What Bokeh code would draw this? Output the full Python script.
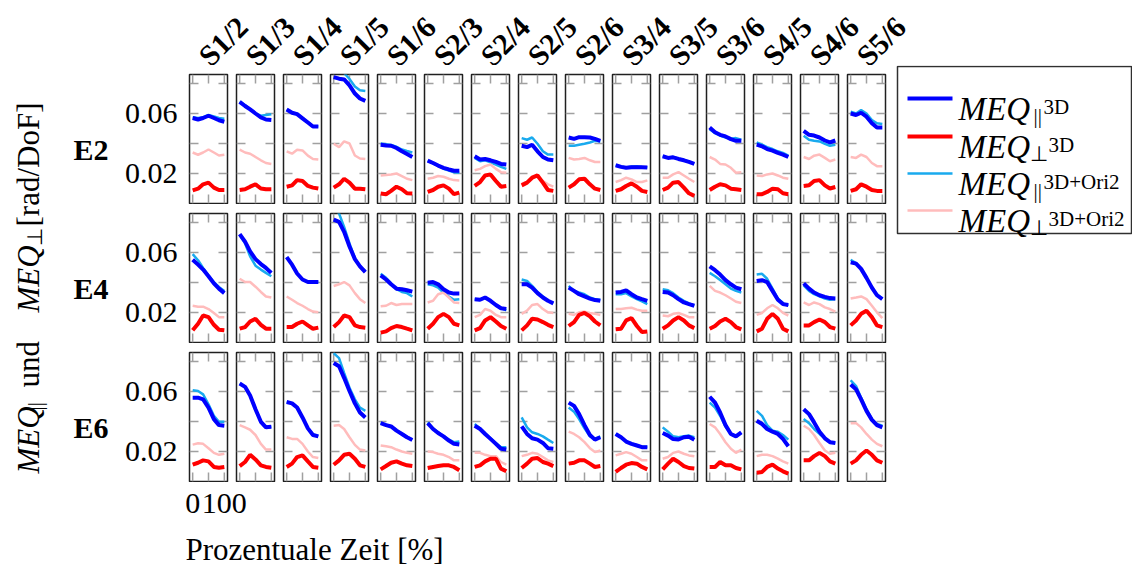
import math
from bokeh.plotting import figure
from bokeh.layouts import row, column
from bokeh.models import Range1d, FixedTicker, LinearAxis
from bokeh.embed import file_html
from bokeh.resources import INLINE
from bokeh.core.properties import value

# ---------------- data ----------------
time_pct = [0, 17, 33, 50, 67, 83, 100]
pair_labels = ["S1/2", "S1/3", "S1/4", "S1/5", "S1/6", "S2/3", "S2/4", "S2/5",
               "S2/6", "S3/4", "S3/5", "S3/6", "S4/5", "S4/6", "S5/6"]
row_labels = ["E2", "E4", "E6"]
y_ticks = [0.02, 0.04, 0.06, 0.08]
y_tick_labels = [0.02, 0.06]
x_ticks = [0, 50, 100]
x_tick_labels = [0, 100]

E2_par_3d = [
    [0.057, 0.056, 0.057, 0.0585, 0.057, 0.0555, 0.0545],
    [0.0678, 0.065, 0.0627, 0.060, 0.0574, 0.056, 0.0557],
    [0.0627, 0.0605, 0.0596, 0.0568, 0.054, 0.0513, 0.0513],
    [0.0843, 0.0832, 0.0827, 0.0788, 0.0733, 0.070, 0.0684],
    [0.0392, 0.0387, 0.0385, 0.037, 0.0348, 0.033, 0.031],
    [0.0286, 0.027, 0.0253, 0.0238, 0.0227, 0.0218, 0.0218],
    [0.0315, 0.0293, 0.0297, 0.0288, 0.0277, 0.0264, 0.026],
    [0.0385, 0.0376, 0.0392, 0.0348, 0.031, 0.0293, 0.0288],
    [0.044, 0.0431, 0.0442, 0.0442, 0.044, 0.0431, 0.0418],
    [0.0255, 0.0244, 0.0238, 0.0242, 0.0242, 0.0242, 0.024],
    [0.0315, 0.0304, 0.0308, 0.0297, 0.0288, 0.0277, 0.0264],
    [0.0506, 0.0475, 0.0458, 0.0447, 0.0429, 0.0418, 0.0418],
    [0.0392, 0.0381, 0.0363, 0.0352, 0.0337, 0.0326, 0.031],
    [0.0484, 0.0458, 0.0453, 0.044, 0.042, 0.0407, 0.042],
    [0.060, 0.059, 0.0605, 0.0579, 0.0535, 0.0506, 0.0506],
]
E2_perp_3d = [
    [0.0088, 0.0099, 0.0128, 0.0139, 0.0106, 0.009, 0.009],
    [0.009, 0.0095, 0.0112, 0.0128, 0.010, 0.0095, 0.0095],
    [0.0112, 0.0121, 0.0156, 0.015, 0.0117, 0.0106, 0.010],
    [0.0106, 0.0128, 0.0165, 0.0139, 0.0099, 0.0099, 0.0095],
    [0.0066, 0.0062, 0.0084, 0.0112, 0.0095, 0.0068, 0.0066],
    [0.0077, 0.009, 0.0112, 0.0121, 0.0099, 0.0062, 0.0073],
    [0.0117, 0.0143, 0.0187, 0.0194, 0.015, 0.0112, 0.0117],
    [0.0121, 0.0139, 0.0172, 0.0187, 0.0139, 0.009, 0.0084],
    [0.0106, 0.0128, 0.0161, 0.0165, 0.0128, 0.0099, 0.009],
    [0.0084, 0.0095, 0.0117, 0.0134, 0.0112, 0.0084, 0.0077],
    [0.009, 0.0106, 0.0139, 0.0143, 0.0106, 0.0068, 0.0051],
    [0.009, 0.0112, 0.0128, 0.0121, 0.0099, 0.0095, 0.009],
    [0.0062, 0.0062, 0.0077, 0.0099, 0.0095, 0.0068, 0.0062],
    [0.0117, 0.0121, 0.015, 0.0156, 0.0121, 0.010, 0.011],
    [0.0084, 0.0095, 0.0128, 0.0112, 0.009, 0.0084, 0.0084],
]
E2_par_ori = [
    [0.0575, 0.057, 0.0575, 0.059, 0.058, 0.057, 0.0565],
    [0.068, 0.0655, 0.063, 0.060, 0.0585, 0.059, 0.0595],
    [0.0627, 0.0605, 0.0598, 0.057, 0.0542, 0.0515, 0.0515],
    [0.087, 0.088, 0.087, 0.083, 0.078, 0.0755, 0.075],
    [0.040, 0.0395, 0.039, 0.0378, 0.036, 0.035, 0.034],
    [0.0286, 0.027, 0.025, 0.0232, 0.022, 0.0208, 0.0205],
    [0.0304, 0.0282, 0.0288, 0.0275, 0.026, 0.0244, 0.0231],
    [0.0436, 0.0425, 0.044, 0.0398, 0.0348, 0.0326, 0.0326],
    [0.0385, 0.0385, 0.0392, 0.0398, 0.0407, 0.0418, 0.0414],
    [0.0255, 0.0246, 0.024, 0.0246, 0.0248, 0.0244, 0.0242],
    [0.0317, 0.0306, 0.031, 0.0299, 0.029, 0.0279, 0.0266],
    [0.0495, 0.0469, 0.0453, 0.044, 0.0431, 0.0436, 0.0425],
    [0.0407, 0.0392, 0.0376, 0.0363, 0.0348, 0.0337, 0.0319],
    [0.0451, 0.0425, 0.0418, 0.0414, 0.0398, 0.0385, 0.0392],
    [0.0612, 0.060, 0.0623, 0.060, 0.0557, 0.0535, 0.053],
]
E2_perp_ori = [
    [0.034, 0.0325, 0.034, 0.036, 0.034, 0.032, 0.0325],
    [0.0359, 0.034, 0.0332, 0.031, 0.0288, 0.027, 0.0264],
    [0.0348, 0.0332, 0.0359, 0.0354, 0.0319, 0.0297, 0.0293],
    [0.0398, 0.0376, 0.0414, 0.040, 0.032, 0.030, 0.0297],
    [0.0187, 0.019, 0.0194, 0.020, 0.0183, 0.0165, 0.0156],
    [0.0165, 0.0172, 0.0183, 0.0178, 0.0165, 0.0156, 0.0154],
    [0.0222, 0.0231, 0.0249, 0.026, 0.0231, 0.0209, 0.0205],
    [0.0134, 0.0143, 0.0172, 0.0183, 0.015, 0.0128, 0.0112],
    [0.0304, 0.0293, 0.0297, 0.0304, 0.0288, 0.0277, 0.0277],
    [0.0143, 0.0156, 0.0172, 0.0161, 0.0143, 0.0143, 0.0154],
    [0.0172, 0.0172, 0.0194, 0.0209, 0.0187, 0.0165, 0.0143],
    [0.031, 0.0293, 0.0264, 0.026, 0.0238, 0.0205, 0.0209],
    [0.0187, 0.0183, 0.0194, 0.020, 0.0187, 0.0172, 0.0165],
    [0.031, 0.0297, 0.0319, 0.0326, 0.0304, 0.0282, 0.0293],
    [0.031, 0.0304, 0.0326, 0.031, 0.027, 0.0249, 0.0249],
]

E4_par_3d = [
    [0.0552, 0.0519, 0.0486, 0.0442, 0.0394, 0.0359, 0.0329],
    [0.0723, 0.0672, 0.0607, 0.0556, 0.0523, 0.0497, 0.0464],
    [0.0569, 0.0519, 0.046, 0.042, 0.0403, 0.0403, 0.0403],
    [0.0819, 0.0804, 0.0738, 0.064, 0.0556, 0.0508, 0.0469],
    [0.0447, 0.042, 0.0388, 0.0359, 0.0355, 0.0348, 0.0339],
    [0.0399, 0.0403, 0.0388, 0.0355, 0.0333, 0.0326, 0.0326],
    [0.0289, 0.0285, 0.030, 0.0278, 0.025, 0.0228, 0.0223],
    [0.0388, 0.0388, 0.0366, 0.0329, 0.030, 0.0278, 0.0261],
    [0.0366, 0.0344, 0.0322, 0.0307, 0.0293, 0.0283, 0.0278],
    [0.0333, 0.0337, 0.0348, 0.0322, 0.030, 0.0289, 0.0278],
    [0.0337, 0.0333, 0.0315, 0.0289, 0.0267, 0.0256, 0.0245],
    [0.0508, 0.0482, 0.0453, 0.0416, 0.0388, 0.0366, 0.0355],
    [0.041, 0.0416, 0.0403, 0.0344, 0.0285, 0.0256, 0.025],
    [0.0394, 0.0359, 0.0333, 0.0315, 0.0304, 0.0296, 0.0293],
    [0.0534, 0.0526, 0.0491, 0.0431, 0.0366, 0.0315, 0.0289],
]
E4_perp_3d = [
    [0.0081, 0.0125, 0.018, 0.0169, 0.0118, 0.0085, 0.0081],
    [0.0092, 0.0103, 0.014, 0.0158, 0.0118, 0.0092, 0.0092],
    [0.0103, 0.0103, 0.0125, 0.014, 0.0114, 0.0092, 0.0099],
    [0.0103, 0.0136, 0.018, 0.0169, 0.0114, 0.0103, 0.0099],
    [0.0066, 0.0074, 0.0096, 0.011, 0.0103, 0.0092, 0.0081],
    [0.0092, 0.0125, 0.0169, 0.0191, 0.0169, 0.0125, 0.0114],
    [0.0081, 0.0096, 0.0147, 0.0169, 0.014, 0.011, 0.0092],
    [0.0081, 0.0114, 0.0158, 0.0153, 0.0136, 0.0118, 0.0103],
    [0.011, 0.0136, 0.0184, 0.0197, 0.0175, 0.014, 0.0114],
    [0.0088, 0.0092, 0.0147, 0.0162, 0.011, 0.007, 0.0074],
    [0.0092, 0.0114, 0.0147, 0.0169, 0.0147, 0.0114, 0.0096],
    [0.0092, 0.011, 0.014, 0.0158, 0.0136, 0.0103, 0.0088],
    [0.0074, 0.0092, 0.0158, 0.0191, 0.0158, 0.0092, 0.0074],
    [0.0114, 0.0114, 0.0136, 0.0153, 0.0136, 0.0103, 0.0092],
    [0.0114, 0.0147, 0.0191, 0.0212, 0.0169, 0.0114, 0.0103],
]
E4_par_ori = [
    [0.0589, 0.0548, 0.0497, 0.0447, 0.0403, 0.037, 0.0344],
    [0.0716, 0.0661, 0.0574, 0.0512, 0.0486, 0.0464, 0.0442],
    [0.0569, 0.0519, 0.046, 0.042, 0.0403, 0.0403, 0.0405],
    [0.090, 0.086, 0.077, 0.066, 0.0563, 0.0508, 0.0475],
    [0.0458, 0.0431, 0.0394, 0.0355, 0.0337, 0.0329, 0.0307],
    [0.0388, 0.0381, 0.0366, 0.0333, 0.0307, 0.0285, 0.0289],
    [0.0289, 0.0285, 0.030, 0.0278, 0.0252, 0.023, 0.0215],
    [0.042, 0.041, 0.0377, 0.0337, 0.0307, 0.0278, 0.0261],
    [0.0377, 0.0344, 0.0333, 0.0322, 0.030, 0.0289, 0.0285],
    [0.0322, 0.0322, 0.0329, 0.0307, 0.0289, 0.0274, 0.0256],
    [0.0355, 0.0348, 0.0329, 0.030, 0.0278, 0.0261, 0.0245],
    [0.0464, 0.0442, 0.0416, 0.0388, 0.0359, 0.0344, 0.0333],
    [0.0453, 0.0458, 0.0425, 0.0359, 0.0293, 0.0263, 0.0245],
    [0.0381, 0.0344, 0.0322, 0.0307, 0.0293, 0.0285, 0.0289],
    [0.0552, 0.053, 0.0491, 0.0431, 0.0366, 0.0322, 0.0293],
]
E4_perp_ori = [
    [0.0245, 0.0239, 0.0239, 0.0223, 0.0197, 0.0169, 0.0169],
    [0.0425, 0.0403, 0.0403, 0.0372, 0.0337, 0.0307, 0.030],
    [0.0307, 0.0285, 0.0263, 0.0245, 0.0223, 0.0206, 0.0201],
    [0.0377, 0.0388, 0.0403, 0.0381, 0.0329, 0.0289, 0.0263],
    [0.0241, 0.0245, 0.0263, 0.025, 0.0256, 0.0256, 0.0256],
    [0.0267, 0.0278, 0.0322, 0.0333, 0.030, 0.0267, 0.0263],
    [0.0169, 0.0184, 0.0223, 0.0212, 0.0184, 0.0169, 0.0169],
    [0.0191, 0.0212, 0.025, 0.0256, 0.0223, 0.0201, 0.0197],
    [0.0191, 0.0184, 0.0201, 0.0206, 0.0197, 0.0191, 0.0184],
    [0.0223, 0.0223, 0.0228, 0.0232, 0.0219, 0.0212, 0.0212],
    [0.018, 0.0175, 0.0191, 0.0197, 0.0184, 0.0169, 0.0169],
    [0.0377, 0.0344, 0.0333, 0.0315, 0.0293, 0.0272, 0.0263],
    [0.0184, 0.0197, 0.0228, 0.025, 0.0228, 0.0197, 0.018],
    [0.0267, 0.025, 0.0267, 0.0256, 0.0234, 0.0223, 0.0206],
    [0.0293, 0.030, 0.0307, 0.0289, 0.0245, 0.0201, 0.0162],
]

E6_par_3d = [
    [0.0559, 0.0559, 0.0548, 0.0493, 0.0416, 0.0376, 0.0372],
    [0.0653, 0.0631, 0.0574, 0.0482, 0.0398, 0.0361, 0.0365],
    [0.053, 0.0521, 0.0493, 0.0427, 0.0354, 0.031, 0.0301],
    [0.079, 0.0768, 0.0691, 0.0603, 0.0521, 0.046, 0.0427],
    [0.0389, 0.0376, 0.0367, 0.0339, 0.0317, 0.0295, 0.0277],
    [0.0389, 0.035, 0.0323, 0.0301, 0.0273, 0.0251, 0.0246],
    [0.0372, 0.035, 0.0317, 0.0284, 0.0251, 0.0218, 0.0213],
    [0.0367, 0.0317, 0.0288, 0.0279, 0.0257, 0.0222, 0.0218],
    [0.0526, 0.0504, 0.0449, 0.0376, 0.031, 0.0279, 0.0295],
    [0.0317, 0.0295, 0.0266, 0.0251, 0.024, 0.0229, 0.0229],
    [0.0323, 0.0306, 0.0283, 0.028, 0.0295, 0.0299, 0.0279],
    [0.0565, 0.0526, 0.046, 0.0376, 0.0317, 0.0301, 0.0328],
    [0.0405, 0.0383, 0.035, 0.0332, 0.0317, 0.0284, 0.0235],
    [0.0482, 0.0449, 0.0394, 0.0332, 0.0288, 0.0262, 0.0257],
    [0.0647, 0.0614, 0.0548, 0.0471, 0.0411, 0.0376, 0.0361],
]
E6_perp_3d = [
    [0.0112, 0.0125, 0.0141, 0.0134, 0.0097, 0.0092, 0.0097],
    [0.0103, 0.013, 0.0178, 0.0147, 0.0108, 0.0097, 0.0092],
    [0.0097, 0.0119, 0.0163, 0.0174, 0.0134, 0.0097, 0.0092],
    [0.0112, 0.0141, 0.0178, 0.0185, 0.0152, 0.0108, 0.0097],
    [0.0081, 0.0103, 0.0125, 0.0134, 0.0119, 0.0108, 0.0103],
    [0.009, 0.0097, 0.0103, 0.0108, 0.0108, 0.0097, 0.0075],
    [0.0097, 0.0108, 0.0134, 0.0152, 0.0152, 0.0086, 0.0068],
    [0.009, 0.0119, 0.0152, 0.0156, 0.013, 0.0119, 0.0103],
    [0.0119, 0.0125, 0.0141, 0.0141, 0.0119, 0.0097, 0.0103],
    [0.0064, 0.009, 0.0112, 0.0123, 0.0119, 0.0097, 0.0081],
    [0.0081, 0.0119, 0.0152, 0.013, 0.0103, 0.009, 0.0086],
    [0.0097, 0.0097, 0.013, 0.0108, 0.0108, 0.009, 0.0081],
    [0.0059, 0.0064, 0.0097, 0.0112, 0.0086, 0.0068, 0.0053],
    [0.0141, 0.0141, 0.0169, 0.0191, 0.0169, 0.0134, 0.0119],
    [0.0119, 0.0141, 0.0178, 0.0207, 0.0178, 0.0141, 0.0125],
]
E6_par_ori = [
    [0.0609, 0.0603, 0.0581, 0.0515, 0.0438, 0.0398, 0.0398],
    [0.0653, 0.0631, 0.0574, 0.0482, 0.0398, 0.0363, 0.0367],
    [0.053, 0.0521, 0.0493, 0.0427, 0.0356, 0.0313, 0.0303],
    [0.0856, 0.0823, 0.0724, 0.0625, 0.0548, 0.0493, 0.0471],
    [0.0392, 0.0378, 0.0369, 0.0341, 0.0319, 0.0297, 0.0279],
    [0.0394, 0.0354, 0.0328, 0.0301, 0.0279, 0.0262, 0.0266],
    [0.0383, 0.0354, 0.0323, 0.0288, 0.0257, 0.0229, 0.0229],
    [0.0427, 0.0361, 0.0328, 0.0317, 0.0301, 0.0279, 0.0257],
    [0.0493, 0.0464, 0.0416, 0.0354, 0.0301, 0.0284, 0.0301],
    [0.0317, 0.0295, 0.0266, 0.0253, 0.0242, 0.0231, 0.0231],
    [0.0361, 0.0332, 0.0301, 0.0295, 0.0301, 0.0306, 0.0295],
    [0.0526, 0.0493, 0.0438, 0.0367, 0.0317, 0.0301, 0.0323],
    [0.0471, 0.0438, 0.0376, 0.0339, 0.0332, 0.031, 0.0279],
    [0.0416, 0.0389, 0.035, 0.0317, 0.0288, 0.0262, 0.0257],
    [0.0675, 0.0636, 0.0559, 0.0482, 0.0416, 0.0383, 0.0372],
]
E6_perp_ori = [
    [0.0246, 0.0255, 0.0251, 0.0222, 0.0191, 0.0178, 0.0185],
    [0.0376, 0.0361, 0.0345, 0.031, 0.0251, 0.0213, 0.0213],
    [0.0295, 0.0284, 0.0284, 0.0251, 0.020, 0.0163, 0.0156],
    [0.0372, 0.0376, 0.035, 0.0295, 0.0244, 0.0213, 0.0207],
    [0.024, 0.0235, 0.0229, 0.0213, 0.020, 0.0191, 0.0185],
    [0.020, 0.0196, 0.0185, 0.0178, 0.0163, 0.0141, 0.0141],
    [0.0191, 0.0191, 0.0178, 0.0169, 0.0169, 0.013, 0.0112],
    [0.0169, 0.0178, 0.0191, 0.0185, 0.0163, 0.0141, 0.013],
    [0.0332, 0.0317, 0.0295, 0.0262, 0.0222, 0.0196, 0.0207],
    [0.0174, 0.0185, 0.0196, 0.0185, 0.0163, 0.0141, 0.0141],
    [0.0152, 0.0163, 0.0191, 0.020, 0.0185, 0.0174, 0.0169],
    [0.0383, 0.0361, 0.0317, 0.0262, 0.0218, 0.0191, 0.0213],
    [0.0169, 0.0178, 0.0178, 0.0169, 0.0152, 0.0134, 0.0119],
    [0.0372, 0.035, 0.031, 0.0257, 0.0207, 0.0185, 0.0191],
    [0.0389, 0.0389, 0.0361, 0.0317, 0.0279, 0.0251, 0.0235],
]

series_by_row = {
    "E2": (E2_par_3d, E2_perp_3d, E2_par_ori, E2_perp_ori),
    "E4": (E4_par_3d, E4_perp_3d, E4_par_ori, E4_perp_ori),
    "E6": (E6_par_3d, E6_perp_3d, E6_par_ori, E6_perp_ori),
}

# ---------------- style ----------------
SERIF = "Liberation Serif"
C_PAR3D = "#0000ff"
C_PERP3D = "#ff0000"
C_PARORI = "#19aaee"
C_PERPORI = "#ffbcbc"
TICK_C = "#a0a0a0"
FRAME_C = "#202020"

PANEL_W, PANEL_H = 38, 129
LEFT_W = 120
X_RANGE = (-10, 110)
Y_RANGE = (0.0, 0.086)
TICK_LEN = 9


def make_panel(rname, ci):
    first = ci == 0
    par3d, perp3d, parori, perpori = series_by_row[rname]
    p = figure(frame_width=PANEL_W, frame_height=PANEL_H,
               x_range=Range1d(*X_RANGE), y_range=Range1d(*Y_RANGE),
               min_border_left=(189 - LEFT_W) if first else 4, min_border_right=5,
               min_border_top=9, min_border_bottom=1,
               x_axis_type=None, y_axis_type=None,
               toolbar_location=None, output_backend="svg")
    p.outline_line_color = FRAME_C
    p.outline_line_width = 1.5
    p.outline_line_alpha = 1.0
    # inward tick marks on all four sides (screen-length rays from the frame edges)
    n_x, n_y = len(x_ticks), len(y_ticks)
    tick_kw = dict(length=TICK_LEN, length_units="screen", line_color=TICK_C, line_width=1.5)
    p.ray(x=x_ticks, y=[Y_RANGE[0]] * n_x, angle=math.pi / 2, **tick_kw)
    p.ray(x=x_ticks, y=[Y_RANGE[1]] * n_x, angle=-math.pi / 2, **tick_kw)
    p.ray(x=[X_RANGE[0]] * n_y, y=y_ticks, angle=0, **tick_kw)
    p.ray(x=[X_RANGE[1]] * n_y, y=y_ticks, angle=math.pi, **tick_kw)
    if first:
        lax = LinearAxis(ticker=FixedTicker(ticks=y_tick_labels), major_tick_in=0,
                         major_tick_out=0, minor_tick_in=0, minor_tick_out=0,
                         axis_line_color=None, major_label_text_font=SERIF,
                         major_label_text_font_size="30px", major_label_text_color="black",
                         major_label_standoff=12)
        p.add_layout(lax, "left")
    p.line(time_pct, parori[ci], line_color=C_PARORI, line_width=2.5)
    p.line(time_pct, perpori[ci], line_color=C_PERPORI, line_width=2.5)
    p.line(time_pct, par3d[ci], line_color=C_PAR3D, line_width=4)
    p.line(time_pct, perp3d[ci], line_color=C_PERP3D, line_width=4)
    return p


def blank(width, height, xr, yr):
    f = figure(width=width, height=height, x_range=Range1d(*xr), y_range=Range1d(*yr),
               min_border=0, x_axis_type=None, y_axis_type=None,
               toolbar_location=None, output_backend="svg")
    f.outline_line_color = None
    return f


panel_rows = []
for rname in row_labels:
    panel_rows.append(row(*[make_panel(rname, ci) for ci in range(len(pair_labels))]))
grid = column(*panel_rows)

# ---------------- header with rotated column labels ----------------
PITCH = 47.0
hdr = blank(1132, 65, (-189 / PITCH, (1132 - 189) / PITCH), (0, 65))
hdr.text(x=[i + 0.30 for i in range(len(pair_labels))], y=[5] * len(pair_labels),
         text=pair_labels, angle=math.pi / 4, text_font=value(SERIF),
         text_font_size=value("30px"), text_font_style="bold",
         text_align="left", text_baseline="alphabetic", text_color="black")

# ---------------- left: y title + row labels ----------------
left = blank(LEFT_W, 417, (0, LEFT_W), (0, 417))
ang = math.pi / 2
TB = 28  # baseline of the rotated title
left.text(x=[TB, TB], y=[9, 170], text=["MEQ", "MEQ"], angle=ang,
          text_font=value(SERIF), text_font_size=value("31px"), text_font_style="italic",
          text_align="left", text_baseline="alphabetic", text_color="black")
left.text(x=[TB + 6, TB + 6], y=[72, 237], text=["||", "\u22a5"], angle=ang,
          text_font=value(SERIF), text_font_size=value("21px"),
          text_align="left", text_baseline="alphabetic", text_color="black")
left.text(x=[TB, TB], y=[95, 256], text=["und", "[rad/DoF]"], angle=ang,
          text_font=value(SERIF), text_font_size=value("31px"),
          text_align="left", text_baseline="alphabetic", text_color="black")
left.text(x=[108, 108, 108], y=[333, 194, 55], text=row_labels,
          text_font=value(SERIF), text_font_size=value("30px"), text_font_style="bold",
          text_align="right", text_baseline="alphabetic", text_color="black")

# ---------------- legend ----------------
leg = blank(242, 417, (0, 242), (0, 417))
leg.quad(left=[7], right=[241], top=[416], bottom=[249], fill_color=None,
         line_color="#303030", line_width=1.5)
leg_colors = [C_PAR3D, C_PERP3D, C_PARORI, C_PERPORI]
leg_widths = [4, 4, 2.5, 2.5]
leg_y = [384, 346, 309, 272]
for c, w, yy in zip(leg_colors, leg_widths, leg_y):
    leg.line([17, 62], [yy, yy], line_color=c, line_width=w)
base = [y - 10 for y in leg_y]
leg.text(x=[68] * 4, y=base, text=["MEQ"] * 4, text_font=value(SERIF),
         text_font_size=value("33px"), text_font_style="italic",
         text_align="left", text_baseline="alphabetic", text_color="black")
leg.text(x=[143, 139, 143, 139], y=[b - 7 for b in base],
         text=["||", "\u22a5", "||", "\u22a5"], text_font=value(SERIF),
         text_font_size=value("21px"), text_align="left", text_baseline="alphabetic",
         text_color="black")
leg.text(x=[153, 158, 153, 158], y=[b + 2 for b in base],
         text=["3D", "3D", "3D+Ori2", "3D+Ori2"], text_font=value(SERIF),
         text_font_size=value("21px"), text_align="left", text_baseline="alphabetic",
         text_color="black")

mid = row(left, grid, leg)

# ---------------- bottom: x tick labels + x title (axis of panel 0 scale) ----------------
k = (X_RANGE[1] - X_RANGE[0]) / PANEL_W
TITLE_L, TITLE_W = 183, 262
bot = figure(frame_width=TITLE_W, frame_height=1,
             x_range=Range1d(X_RANGE[0] - (189 - TITLE_L) * k,
                             X_RANGE[0] + (TITLE_L + TITLE_W - 189) * k),
             y_range=Range1d(0, 1), min_border_left=TITLE_L,
             min_border_right=1132 - TITLE_L - TITLE_W,
             min_border_top=0, min_border_bottom=83, x_axis_type=None, y_axis_type=None,
             toolbar_location=None, output_backend="svg")
bot.outline_line_color = None
bax = LinearAxis(ticker=FixedTicker(ticks=x_tick_labels), major_tick_in=0, major_tick_out=0,
                 minor_tick_in=0, minor_tick_out=0, axis_line_color=None,
                 major_label_text_font=SERIF, major_label_text_font_size="30px",
                 major_label_standoff=10, major_label_text_color="black",
                 axis_label="Prozentuale Zeit [%]", axis_label_text_font=SERIF,
                 axis_label_text_font_size="31px", axis_label_text_font_style="normal",
                 axis_label_text_color="black", axis_label_standoff=16)
bot.add_layout(bax, "below")

# single-child rows keep the header and footer frames independent of each other
layout = column(row(hdr), mid, row(bot))
open("out.html", "w").write(file_html(layout, INLINE))
